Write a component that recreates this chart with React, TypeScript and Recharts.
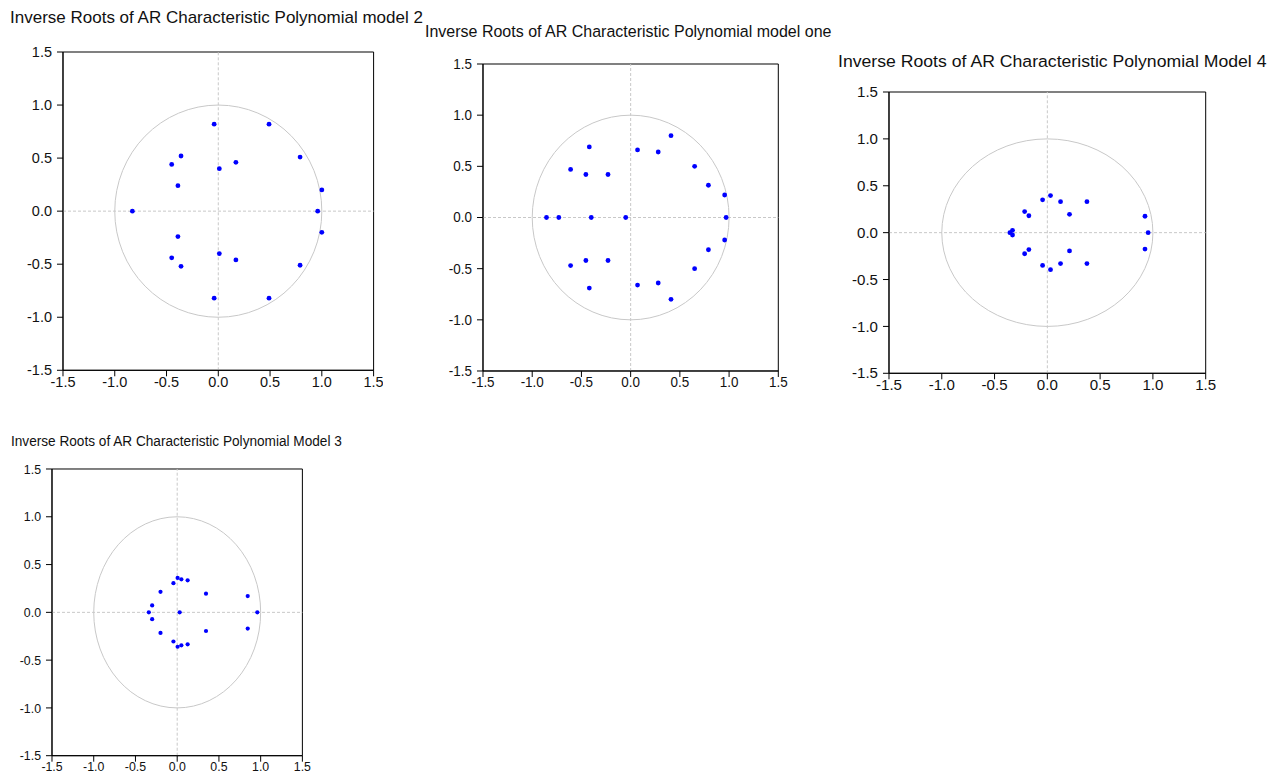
import { ScatterChart, Scatter, XAxis, YAxis, ReferenceLine, ReferenceArea } from "recharts";

// axis ticks shared by all four panels
const TICKS = [-1.5, -1.0, -0.5, 0.0, 0.5, 1.0, 1.5];

// model 2 inverse roots (real / imaginary parts)
const model2Re = [-0.04, 0.49, -0.36, -0.45, 0.01, 0.17, 0.79, -0.39, 1.0, -0.83, 0.96, 1.0, -0.39, 0.01, 0.17, -0.45, -0.36, 0.79, -0.04, 0.49];
const model2Im = [0.82, 0.82, 0.52, 0.44, 0.4, 0.46, 0.51, 0.24, 0.2, 0.0, 0.0, -0.2, -0.24, -0.4, -0.46, -0.44, -0.52, -0.51, -0.82, -0.82];

// model one
const modelOneRe = [0.41, -0.42, 0.07, 0.28, -0.61, -0.455, -0.23, 0.65, 0.79, 0.955, -0.855, -0.73, -0.4, -0.05, 0.97, 0.955, 0.79, 0.65, -0.61, -0.455, -0.23, 0.07, 0.28, -0.42, 0.41];
const modelOneIm = [0.8, 0.69, 0.66, 0.64, 0.47, 0.42, 0.42, 0.5, 0.315, 0.22, 0.0, 0.0, 0.0, 0.0, 0.0, -0.22, -0.315, -0.5, -0.47, -0.42, -0.42, -0.66, -0.64, -0.69, -0.8];

// model 4
const model4Re = [0.03, -0.045, 0.125, 0.375, -0.215, -0.175, 0.21, 0.925, -0.33, -0.355, 0.955, -0.33, -0.175, -0.215, 0.21, 0.925, -0.045, 0.125, 0.03, 0.375];
const model4Im = [0.395, 0.35, 0.33, 0.33, 0.225, 0.18, 0.195, 0.175, 0.025, 0.0, 0.0, -0.025, -0.18, -0.225, -0.195, -0.175, -0.35, -0.33, -0.395, -0.33];

// model 3
const model3Re = [0.005, 0.05, 0.125, -0.045, -0.2, 0.345, 0.845, -0.3, -0.34, 0.03, 0.96, -0.3, -0.2, 0.345, 0.845, -0.045, 0.125, 0.05, 0.005];
const model3Im = [0.36, 0.345, 0.335, 0.305, 0.215, 0.195, 0.17, 0.072, 0.0, 0.0, 0.0, -0.072, -0.215, -0.195, -0.17, -0.305, -0.335, -0.345, -0.36];

const FONT = "'Liberation Sans', Arial, Helvetica, sans-serif";

const zip = (re: number[], im: number[]) => re.map((x, i) => ({ x, y: im[i] }));

// ellipse inscribed in the [-1,1]x[-1,1] box -> unit circle through the axis scales
const UnitCircle = (p: any) => (
  <ellipse
    cx={p.x + p.width / 2}
    cy={p.y + p.height / 2}
    rx={Math.abs(p.width) / 2}
    ry={Math.abs(p.height) / 2}
    fill="none"
    stroke="#c8c8c8"
    strokeWidth={1}
  />
);

interface Box {
  x0: number;
  y0: number;
  x1: number;
  y1: number;
}

interface PanelProps {
  box: Box;
  data: { x: number; y: number }[];
  fs: number;
  sx: number;
  r: number;
}

const RootsPanel = ({ box, data, fs, sx, r }: PanelProps) => {
  const left = box.x0 - 60;
  const top = box.y0 - 10;
  const width = box.x1 - left + 10;
  const height = box.y1 - top + 30;

  const xTick = (p: any) => (
    <g transform={`translate(${p.x},${p.y}) scale(${sx},1)`}>
      <text textAnchor="middle" dy="0.71em" fontSize={fs} fontFamily={FONT} fill="#111">
        {Number(p.payload.value).toFixed(1)}
      </text>
    </g>
  );
  const yTick = (p: any) => (
    <g transform={`translate(${p.x},${p.y}) scale(${sx},1)`}>
      <text textAnchor="end" dy="0.355em" fontSize={fs} fontFamily={FONT} fill="#111">
        {Number(p.payload.value).toFixed(1)}
      </text>
    </g>
  );

  return (
    <div style={{ position: "absolute", left, top }}>
      <ScatterChart width={width} height={height} margin={{ top: 10, right: 10, bottom: 0, left: 20 }}>
        <XAxis
          type="number"
          dataKey="x"
          domain={[-1.5, 1.5]}
          ticks={TICKS}
          interval={0}
          allowDataOverflow
          height={30}
          stroke="#000"
          tickLine={{ stroke: "#000" }}
          tickSize={6}
          tickMargin={0}
          tick={xTick}
        />
        <YAxis
          type="number"
          dataKey="y"
          domain={[-1.5, 1.5]}
          ticks={TICKS}
          interval={0}
          allowDataOverflow
          width={40}
          stroke="#000"
          tickLine={{ stroke: "#000" }}
          tickSize={6}
          tickMargin={5}
          tick={yTick}
        />
        <ReferenceLine x={0} stroke="#c8c8c8" strokeDasharray="3 2" />
        <ReferenceLine y={0} stroke="#c8c8c8" strokeDasharray="3 2" />
        <ReferenceArea x1={-1} x2={1} y1={-1} y2={1} shape={UnitCircle} />
        <ReferenceArea x1={-1.5} x2={1.5} y1={-1.5} y2={1.5} fill="none" fillOpacity={0} stroke="#000" strokeOpacity={1} />
        <Scatter
          data={data}
          isAnimationActive={false}
          shape={(p: any) => <circle cx={p.cx} cy={p.cy} r={r} fill="#0000ff" />}
        />
      </ScatterChart>
    </div>
  );
};

const TITLES = [
  { text: "Inverse Roots of AR Characteristic Polynomial model 2", x: 10, y: 22.5, fs: 17, sx: 1 },
  { text: "Inverse Roots of AR Characteristic Polynomial model one", x: 425, y: 37, fs: 16.5, sx: 0.97 },
  { text: "Inverse Roots of AR Characteristic Polynomial Model 4", x: 838, y: 67, fs: 17.3, sx: 1.02 },
  { text: "Inverse Roots of AR Characteristic Polynomial Model 3", x: 11, y: 445.5, fs: 15.5, sx: 0.88 },
];

export default function App() {
  return (
    <div style={{ position: "absolute", left: 0, top: 0, width: 1268, height: 781, background: "#fff", overflow: "hidden" }}>
      <RootsPanel box={{ x0: 62.7, y0: 51.7, x1: 373.3, y1: 370 }} data={zip(model2Re, model2Im)} fs={14.5} sx={1} r={2.4} />
      <RootsPanel box={{ x0: 482.7, y0: 64.3, x1: 778, y1: 371.3 }} data={zip(modelOneRe, modelOneIm)} fs={14} sx={0.96} r={2.4} />
      <RootsPanel box={{ x0: 889.3, y0: 92, x1: 1206, y1: 373.3 }} data={zip(model4Re, model4Im)} fs={14.5} sx={1.04} r={2.4} />
      <RootsPanel box={{ x0: 52.3, y0: 469.3, x1: 302.7, y1: 756 }} data={zip(model3Re, model3Im)} fs={13} sx={0.95} r={2.1} />
      <svg width={1268} height={781} style={{ position: "absolute", left: 0, top: 0, pointerEvents: "none" }}>
        {TITLES.map((t) => (
          <text key={t.text} transform={`translate(${t.x},${t.y}) scale(${t.sx},1)`} fontSize={t.fs} fontFamily={FONT} fill="#111">
            {t.text}
          </text>
        ))}
      </svg>
    </div>
  );
}
